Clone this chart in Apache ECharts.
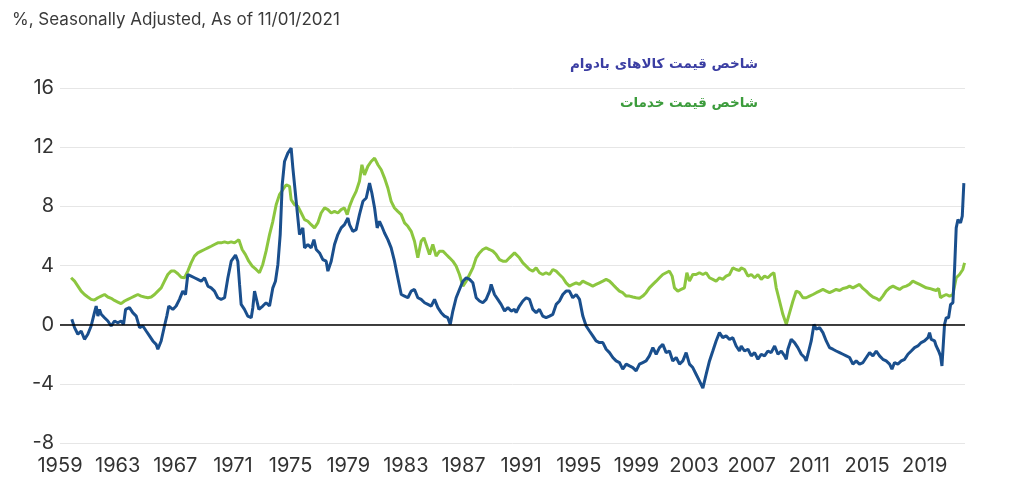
<!DOCTYPE html>
<html><head><meta charset="utf-8">
<script src="https://cdn.jsdelivr.net/npm/echarts@6/dist/echarts.min.js"></script>
<style>html,body{margin:0;padding:0;background:#fff;}#c{width:1024px;height:503px;}</style>
</head><body><div id="c"></div>
<script>
const titleText = '%, Seasonally Adjusted, As of 11/01/2021';
const durableName = 'شاخص قیمت کالاهای بادوام';
const servicesName = 'شاخص قیمت خدمات';
const yTicks = [-8, -4, 0, 4, 8, 12, 16];
const xTickStart = 1959, xTickStep = 4;

const durable = [
[1959.82,0.36],[1960.01,-0.20],[1960.24,-0.65],[1960.47,-0.43],[1960.70,-0.99],[1960.93,-0.65],[1961.16,-0.09],[1961.39,0.81],[1961.51,1.26],[1961.63,0.58],[1961.74,1.03],[1961.86,0.70],[1962.09,0.47],[1962.32,0.25],[1962.55,-0.09],[1962.78,0.25],[1963.01,0.13],[1963.24,0.25],[1963.41,0.02],[1963.55,1.03],[1963.82,1.15],[1964.05,0.81],[1964.29,0.58],[1964.52,-0.20],[1964.75,-0.09],[1964.98,-0.43],[1965.21,-0.76],[1965.44,-1.10],[1965.67,-1.33],[1965.79,-1.66],[1966.02,-1.10],[1966.25,-0.09],[1966.41,0.58],[1966.55,1.26],[1966.83,1.03],[1967.06,1.26],[1967.29,1.71],[1967.52,2.27],[1967.71,2.04],[1967.87,3.39],[1968.10,3.28],[1968.33,3.17],[1968.56,3.06],[1968.80,2.94],[1969.03,3.17],[1969.26,2.61],[1969.49,2.49],[1969.72,2.27],[1969.95,1.82],[1970.18,1.71],[1970.42,1.82],[1970.65,3.17],[1970.88,4.29],[1971.18,4.70],[1971.34,4.29],[1971.46,2.72],[1971.57,1.37],[1971.80,1.03],[1972.03,0.58],[1972.27,0.47],[1972.38,1.15],[1972.50,2.27],[1972.61,1.82],[1972.80,1.03],[1973.07,1.26],[1973.30,1.48],[1973.54,1.26],[1973.77,2.49],[1973.95,2.94],[1974.12,4.07],[1974.28,6.09],[1974.42,9.46],[1974.58,11.03],[1974.81,11.60],
[1975.04,11.93],[1975.16,10.58],[1975.39,8.34],[1975.62,6.09],[1975.85,6.54],[1975.97,5.19],[1976.20,5.42],[1976.43,5.19],[1976.62,5.75],[1976.78,5.08],[1977.01,4.85],[1977.24,4.40],[1977.47,4.29],[1977.59,3.62],[1977.82,4.29],[1978.05,5.42],[1978.28,6.09],[1978.51,6.54],[1978.74,6.76],[1978.98,7.21],[1979.09,6.76],[1979.32,6.31],[1979.55,6.43],[1979.78,7.44],[1980.02,8.34],[1980.25,8.56],[1980.48,9.57],[1980.64,8.90],[1980.83,7.89],[1981.01,6.54],[1981.17,6.99],[1981.33,6.65],[1981.52,6.20],[1981.75,5.75],[1981.98,5.19],[1982.21,4.29],[1982.44,3.17],[1982.68,2.04],[1982.91,1.93],[1983.14,1.82],[1983.37,2.27],[1983.60,2.38],[1983.83,1.82],[1984.06,1.71],[1984.30,1.48],[1984.53,1.37],[1984.76,1.26],[1984.99,1.71],[1985.22,1.15],[1985.45,0.81],[1985.68,0.58],[1985.91,0.47],[1986.08,0.02],[1986.26,0.92],[1986.49,1.82],[1986.72,2.38],[1986.96,2.94],[1987.19,3.17],[1987.42,3.06],[1987.65,2.83],[1987.88,1.82],[1988.11,1.60],[1988.34,1.48],[1988.57,1.71],[1988.81,2.27],[1988.92,2.72],[1989.15,2.04],[1989.38,1.71],[1989.61,1.37],[1989.85,0.92],[1990.08,1.15],[1990.31,0.92],[1990.54,1.03],
[1990.65,0.81],[1990.88,1.26],[1991.12,1.60],[1991.35,1.82],[1991.58,1.71],[1991.81,1.03],[1992.04,0.81],[1992.27,1.03],[1992.50,0.58],[1992.73,0.47],[1992.97,0.58],[1993.20,0.70],[1993.43,1.37],[1993.66,1.60],[1993.89,2.04],[1994.12,2.27],[1994.35,2.27],[1994.58,1.82],[1994.82,2.04],[1995.05,1.71],[1995.28,0.58],[1995.51,-0.09],[1995.74,-0.43],[1995.97,-0.76],[1996.20,-1.10],[1996.43,-1.21],[1996.67,-1.21],[1996.90,-1.66],[1997.13,-1.89],[1997.36,-2.22],[1997.59,-2.45],[1997.82,-2.56],[1998.05,-3.01],[1998.29,-2.67],[1998.52,-2.79],[1998.75,-2.90],[1998.98,-3.12],[1999.21,-2.67],[1999.44,-2.56],[1999.67,-2.45],[1999.90,-2.11],[2000.14,-1.55],[2000.37,-2.00],[2000.60,-1.55],[2000.83,-1.33],[2001.06,-1.89],[2001.29,-1.78],[2001.52,-2.45],[2001.76,-2.22],[2001.99,-2.67],[2002.22,-2.45],[2002.45,-1.89],[2002.68,-2.67],[2002.91,-2.90],[2003.14,-3.35],[2003.37,-3.80],[2003.61,-4.29],[2003.84,-3.35],[2004.07,-2.45],[2004.30,-1.78],[2004.53,-1.10],[2004.76,-0.54],[2004.99,-0.88],[2005.22,-0.76],[2005.46,-0.99],[2005.69,-0.88],[2005.92,-1.44],[2006.15,-1.78],
[2006.27,-1.44],[2006.50,-1.78],[2006.74,-1.66],[2006.97,-2.11],[2007.20,-1.89],[2007.43,-2.34],[2007.66,-2.00],[2007.89,-2.11],[2008.12,-1.78],[2008.35,-1.89],[2008.59,-1.44],[2008.82,-2.00],[2009.05,-1.78],[2009.28,-2.11],[2009.40,-2.34],[2009.51,-1.66],[2009.74,-0.99],[2009.97,-1.21],[2010.20,-1.55],[2010.44,-2.00],[2010.67,-2.22],[2010.78,-2.45],[2010.90,-2.00],[2011.13,-1.10],[2011.32,0.02],[2011.48,-0.31],[2011.71,-0.20],[2011.94,-0.54],[2012.17,-1.10],[2012.40,-1.55],[2012.63,-1.66],[2012.86,-1.78],[2013.10,-1.89],[2013.33,-2.00],[2013.56,-2.11],[2013.79,-2.22],[2014.02,-2.67],[2014.25,-2.45],[2014.48,-2.67],[2014.72,-2.56],[2014.95,-2.22],[2015.18,-1.89],[2015.41,-2.11],[2015.64,-1.78],[2015.87,-2.11],[2016.10,-2.34],[2016.33,-2.45],[2016.57,-2.67],[2016.73,-3.01],[2016.91,-2.56],[2017.14,-2.67],[2017.38,-2.45],[2017.61,-2.34],[2017.84,-2.00],[2018.07,-1.78],[2018.30,-1.55],[2018.53,-1.44],[2018.76,-1.21],[2018.99,-1.10],[2019.23,-0.88],[2019.34,-0.54],[2019.46,-0.99],[2019.69,-1.10],[2019.80,-1.44],[2019.97,-1.78],[2020.10,-2.11],[2020.20,-2.79],[2020.38,0.02],[2020.50,0.47],[2020.66,0.47],[2020.80,1.37],[2020.96,1.48],[2021.08,3.84],[2021.19,6.54],[2021.31,7.10],[2021.49,6.88],[2021.61,7.33],[2021.72,9.57]
];

const services = [
[1959.77,3.17],[1960.01,2.94],[1960.24,2.61],[1960.47,2.27],[1960.70,2.04],[1960.93,1.87],[1961.16,1.71],[1961.39,1.66],[1961.63,1.82],[1961.86,1.93],[1962.09,2.04],[1962.32,1.87],[1962.55,1.78],[1962.78,1.64],[1963.01,1.53],[1963.24,1.42],[1963.48,1.60],[1963.71,1.71],[1963.94,1.82],[1964.17,1.93],[1964.40,2.04],[1964.63,1.93],[1964.86,1.87],[1965.10,1.82],[1965.33,1.87],[1965.56,2.04],[1965.79,2.27],[1966.02,2.49],[1966.25,2.94],[1966.48,3.39],[1966.71,3.62],[1966.95,3.62],[1967.18,3.44],[1967.41,3.21],[1967.64,3.17],[1967.87,3.62],[1968.10,4.18],[1968.33,4.63],[1968.56,4.85],[1968.80,4.97],[1969.03,5.08],[1969.26,5.19],[1969.49,5.30],[1969.72,5.42],[1969.95,5.53],[1970.18,5.53],[1970.42,5.60],[1970.65,5.53],[1970.88,5.60],[1971.11,5.53],[1971.41,5.75],[1971.64,5.08],[1971.87,4.74],[1972.10,4.29],[1972.34,3.96],[1972.61,3.73],[1972.84,3.51],[1973.07,4.07],[1973.30,4.97],[1973.54,6.09],[1973.77,6.99],[1974.00,8.11],[1974.23,8.79],[1974.46,9.12],[1974.70,9.46],
[1974.81,9.57],[1974.93,9.35],[1975.04,8.45],[1975.27,8.11],[1975.51,8.00],[1975.74,7.55],[1975.97,7.10],[1976.20,6.99],[1976.43,6.76],[1976.66,6.54],[1976.89,6.88],[1977.12,7.55],[1977.36,7.89],[1977.59,7.78],[1977.82,7.55],[1978.05,7.66],[1978.28,7.55],[1978.51,7.78],[1978.74,7.89],[1978.93,7.44],[1979.09,8.00],[1979.32,8.56],[1979.55,9.01],[1979.78,9.69],[1979.95,10.81],[1980.13,10.13],[1980.36,10.70],[1980.59,11.03],[1980.83,11.26],[1981.06,10.81],[1981.29,10.47],[1981.52,9.91],[1981.75,9.24],[1981.98,8.34],[1982.21,7.89],[1982.44,7.66],[1982.68,7.44],[1982.91,6.88],[1983.14,6.65],[1983.37,6.31],[1983.60,5.64],[1983.83,4.52],[1984.06,5.64],[1984.25,5.87],[1984.41,5.42],[1984.64,4.74],[1984.87,5.42],[1985.10,4.63],[1985.34,4.97],[1985.57,4.97],[1985.80,4.74],[1986.03,4.52],[1986.26,4.29],[1986.49,3.96],[1986.72,3.39],[1986.96,2.61],[1987.19,2.94],[1987.42,3.39],[1987.65,3.84],[1987.88,4.52],[1988.11,4.85],[1988.34,5.08],[1988.57,5.19],[1988.81,5.08],[1989.04,4.97],[1989.27,4.74],[1989.50,4.40],[1989.73,4.29],[1989.96,4.29],[1990.19,4.52],[1990.54,4.85],
[1990.65,4.85],[1990.88,4.52],[1991.12,4.18],[1991.35,3.96],[1991.58,3.73],[1991.81,3.62],[1992.04,3.84],[1992.27,3.51],[1992.50,3.39],[1992.73,3.51],[1992.97,3.39],[1993.20,3.73],[1993.43,3.62],[1993.66,3.39],[1993.89,3.17],[1994.12,2.83],[1994.35,2.61],[1994.58,2.72],[1994.82,2.83],[1995.05,2.72],[1995.28,2.94],[1995.51,2.83],[1995.74,2.72],[1995.97,2.61],[1996.20,2.72],[1996.43,2.83],[1996.67,2.94],[1996.90,3.06],[1997.13,2.94],[1997.36,2.72],[1997.59,2.49],[1997.82,2.27],[1998.05,2.16],[1998.29,1.93],[1998.52,1.93],[1998.75,1.87],[1998.98,1.82],[1999.21,1.78],[1999.44,1.93],[1999.67,2.16],[1999.90,2.49],[2000.14,2.72],[2000.37,2.94],[2000.60,3.17],[2000.83,3.39],[2001.06,3.51],[2001.29,3.62],[2001.48,3.28],[2001.64,2.49],[2001.87,2.27],[2002.10,2.38],[2002.33,2.49],[2002.50,3.51],[2002.68,2.94],[2002.91,3.39],[2003.14,3.39],[2003.37,3.51],[2003.61,3.39],[2003.84,3.51],[2004.07,3.17],[2004.30,3.06],[2004.53,2.94],[2004.76,3.17],[2004.99,3.06],[2005.22,3.28],[2005.46,3.39],[2005.69,3.84],[2005.92,3.73],[2006.15,3.66],
[2006.27,3.84],[2006.50,3.73],[2006.74,3.28],[2006.97,3.39],[2007.20,3.17],[2007.43,3.39],[2007.66,3.06],[2007.89,3.28],[2008.12,3.17],[2008.35,3.39],[2008.54,3.51],[2008.70,2.49],[2008.93,1.60],[2009.16,0.70],[2009.40,0.02],[2009.63,0.81],[2009.86,1.60],[2010.09,2.27],[2010.32,2.16],[2010.55,1.82],[2010.78,1.82],[2011.01,1.93],[2011.25,2.04],[2011.48,2.16],[2011.71,2.27],[2011.94,2.38],[2012.17,2.27],[2012.40,2.16],[2012.63,2.27],[2012.86,2.38],[2013.10,2.31],[2013.33,2.45],[2013.56,2.49],[2013.79,2.61],[2014.02,2.49],[2014.25,2.61],[2014.48,2.72],[2014.72,2.45],[2014.95,2.27],[2015.18,2.04],[2015.41,1.87],[2015.64,1.78],[2015.87,1.64],[2016.10,1.93],[2016.33,2.27],[2016.57,2.49],[2016.80,2.61],[2017.03,2.49],[2017.26,2.38],[2017.49,2.54],[2017.72,2.61],[2017.95,2.72],[2018.18,2.94],[2018.42,2.83],[2018.65,2.72],[2018.88,2.61],[2019.11,2.49],[2019.34,2.45],[2019.57,2.38],[2019.80,2.31],[2019.97,2.45],[2020.10,1.82],[2020.27,1.93],[2020.50,2.04],[2020.73,1.93],[2020.96,2.04],[2021.19,3.17],[2021.42,3.39],[2021.65,3.73],[2021.77,4.18]
];

const chart = echarts.init(document.getElementById('c'));
const font = 'Inter, "Noto Sans", sans-serif';
chart.setOption({
  animation: false,
  backgroundColor: '#fff',
  title: {
    text: titleText, left: 7, top: 6,
    textStyle: { fontFamily: font, fontSize: 17, fontWeight: 'normal', color: '#3a3a3a' }
  },
  legend: {
    orient: 'vertical', right: 256, top: 52, itemGap: 25, align: 'right',
    icon: 'none', itemWidth: 0, itemHeight: 14,
    data: [
      { name: durableName, textStyle: { color: '#3b3ea3' } },
      { name: servicesName, textStyle: { color: '#3c9c3c' } }
    ],
    textStyle: { fontFamily: '"DejaVu Sans", sans-serif', fontSize: 13.5, fontWeight: 'bold' }
  },
  grid: { left: 60, right: 59, top: 88, bottom: 60 },
  xAxis: {
    type: 'value', min: xTickStart, max: 2021.8, interval: xTickStep,
    axisLine: { show: false }, axisTick: { show: false }, splitLine: { show: false },
    axisLabel: {
      fontFamily: font, fontSize: 20, color: '#333', margin: 13,
      showMaxLabel: false,
      formatter: v => (Number.isInteger(v) && (v - xTickStart) % xTickStep === 0) ? String(v) : ''
    }
  },
  yAxis: {
    type: 'value', min: yTicks[0], max: yTicks[yTicks.length - 1], interval: 4,
    axisLine: { show: false }, axisTick: { show: false },
    splitLine: { lineStyle: { color: '#e6e6e6', width: 1 } },
    axisLabel: { fontFamily: font, fontSize: 20, color: '#333', margin: 6 }
  },
  series: [
    {
      name: servicesName, type: 'line', data: services, showSymbol: false,
      lineStyle: { color: '#8cc63f', width: 3 }, itemStyle: { color: '#8cc63f' },
      markLine: {
        silent: true, symbol: 'none', label: { show: false },
        lineStyle: { color: '#000', width: 1.5, type: 'solid' },
        data: [{ yAxis: 0 }]
      }
    },
    {
      name: durableName, type: 'line', data: durable, showSymbol: false,
      lineStyle: { color: '#1a4f8d', width: 3 }, itemStyle: { color: '#1a4f8d' }
    }
  ]
});
</script></body></html>
